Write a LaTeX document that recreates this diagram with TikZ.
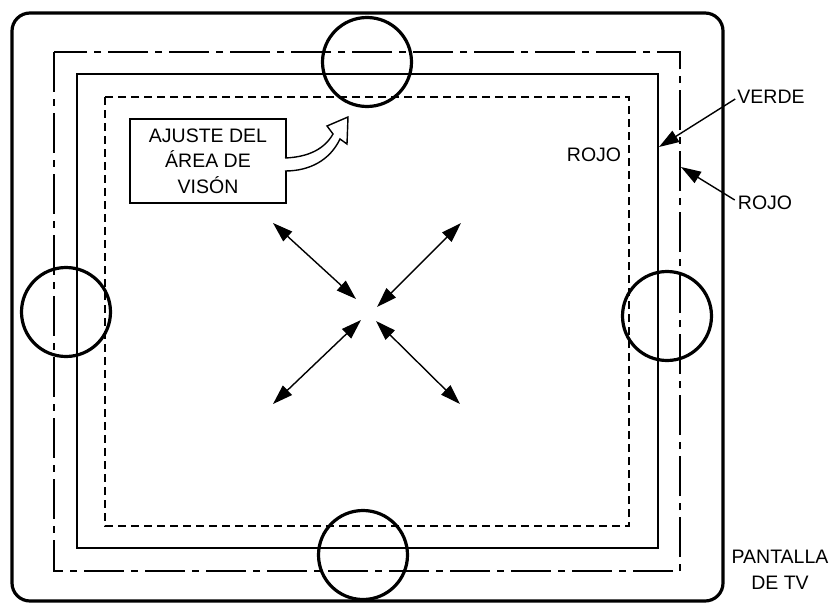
\documentclass[tikz,border=0pt]{standalone}
\usepackage{fontspec}
\setmainfont{Liberation Sans}
\usetikzlibrary{arrows.meta,calc}
\begin{document}
\begin{tikzpicture}[x=1pt,y=-1pt,
  lbl/.style={font=\fontsize{19.5}{25.5}\selectfont, inner sep=0pt},
  fineline/.style={line width=1.4pt},
  ring/.style={circle, draw, line width=3.2pt, minimum size=89pt, inner sep=0pt},
  head/.style={-{Triangle[length=20pt,width=13pt]}},
  dhead/.style={{Triangle[length=20pt,width=13pt]}-{Triangle[length=20pt,width=13pt]}},
  dashline/.style={fineline, dash pattern=on 8pt off 5pt},
  dashdotline/.style={fineline, dash pattern=on 40pt off 7pt on 7pt off 7pt},
]
\useasboundingbox (0,0) rectangle (832,608);
% screen frames
\draw[line width=3.2pt, rounded corners=18pt] (12,13) rectangle (723,601);
\draw[dashdotline] (54,52) rectangle (680,571);
\draw[fineline] (77,74) rectangle (658,548);
\draw[dashline] (105,97) rectangle (629,526);
% adjustment circles
\node[ring] (ctop) at (367,62) {};
\node[ring] (cbot) at (363,555) {};
\node[ring] (cleft) at (66,312) {};
\node[ring] (cright) at (667,316) {};
% box with label
\node[draw, fineline, lbl, align=center, minimum width=156pt, minimum height=84pt] (box) at (208,161) {AJUSTE DEL\\ÁREA DE\\VISÓN};
% hollow curved arrow
\draw[fineline, fill=white] (285,158) .. controls (310,157) and (325,148) .. (333,134) -- (327,126) -- (348,117) -- (347,144) -- (340,139) .. controls (330,160) and (310,171) .. (285,171);
% central arrows
\coordinate (nw1) at (273,223); \coordinate (nw2) at (356,299);
\coordinate (ne1) at (461,223); \coordinate (ne2) at (377,307);
\coordinate (sw1) at (273,404); \coordinate (sw2) at (361,320);
\coordinate (se1) at (460,404); \coordinate (se2) at (376,321);
\draw[fineline, dhead] (nw1) -- (nw2);
\draw[fineline, dhead] (ne1) -- (ne2);
\draw[fineline, dhead] (sw1) -- (sw2);
\draw[fineline, dhead] (se1) -- (se2);
% labels
\node[lbl] (verde) at (771,97) {VERDE};
\node[lbl] (rojoin) at (594,155) {ROJO};
\node[lbl] (rojoout) at (765,203) {ROJO};
\node[lbl, align=center] (tv) at (780,570) {PANTALLA\\DE TV};
\coordinate (vt) at (659,147);
\coordinate (rt) at (681,167);
\draw[fineline, head] ($(verde.west)+(-2,2)$) -- (vt);
\draw[fineline, head] ($(rojoout.west)+(-3,-3)$) -- (rt);
\end{tikzpicture}
\end{document}
